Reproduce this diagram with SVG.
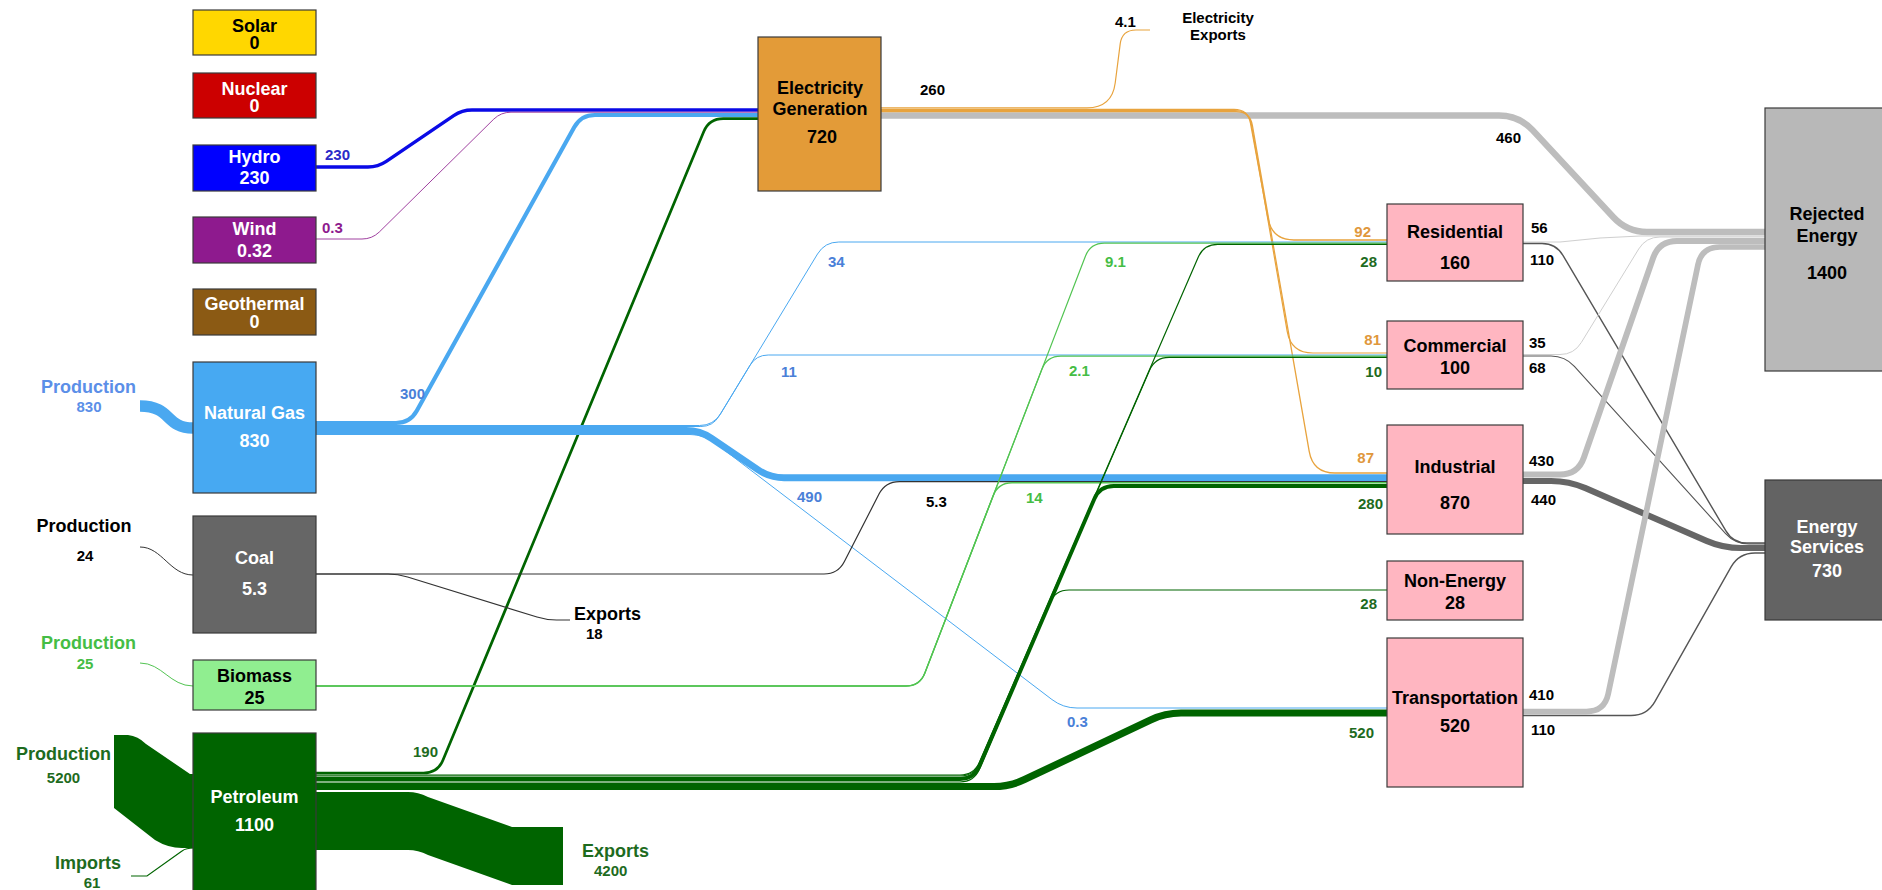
<svg xmlns="http://www.w3.org/2000/svg" width="1882" height="890" viewBox="0 0 1882 890">
<style>
.n{stroke:#3a3a3a;stroke-width:1.2}
.t{font-family:"Liberation Sans",Arial,sans-serif;font-weight:bold;font-size:18px;text-anchor:middle}
.l{font-family:"Liberation Sans",Arial,sans-serif;font-weight:bold;font-size:15px}
.m{text-anchor:middle}
.e{text-anchor:end}
.s{text-anchor:start}
.w{fill:#fff}
.k{fill:#000}
.f{fill:none}
.hy{stroke:#0a0ae6}
.wi{stroke:#a040a0}
.ng{stroke:#4aa8f0}
.co{stroke:#333}
.bi{stroke:#52c452}
.pe{stroke:#006400}
.el{stroke:#e8a33d}
.rj{stroke:#bdbdbd}
.rl{stroke:#cfcfcf}
.es{stroke:#555}
.cNG{fill:#4a80d8}
.cBI{fill:#45bd45}
.cPE{fill:#1e6b1e}
.cEL{fill:#e0973c}
.cHY{fill:#2a2ac8}
.cWI{fill:#8e1a8e}
</style>
<rect width="1882" height="890" fill="#fff"/>
<g id="connectors">
  <!-- sources to electricity -->
  <path class="f hy" stroke-width="3.4" d="M316,167 L368,167 Q378,167 386.3,161.4 L453.7,115.6 Q462,110 472,110 L758,110"/>
  <path class="f wi" stroke-width="1" d="M316,239 L362,239 Q372,239 379.2,232.1 L493.8,119.1 Q501,112.2 511,112.2 L758,112.2"/>
  <path class="f ng" stroke-width="4.2" d="M316,423 L396,423 Q410,423 416.8,410.8 L574.2,127.2 Q581,115 595,115 L758,115"/>
  <path class="f pe" stroke-width="2.7" d="M316,773 L423.6,773 Q437.6,773 443,760.1 L703.8,131.5 Q709.2,118.6 723.2,118.6 L758,118.6"/>
  <!-- electricity outputs -->
  <path class="f rj" stroke-width="6.4" d="M881,115.5 L1499,115.5 Q1519,115.5 1532.6,130.2 L1613.4,217.3 Q1627,232 1647,232 L1766,232"/>
  <path class="f el" stroke-width="1.2" d="M881,107.8 L1087,107.8 Q1112,107.8 1115.2,83 L1120.2,43.9 Q1122,30 1136,30 L1150,30"/>
  <path class="f el" stroke-width="1.3" d="M881,109.3 L1234,109.3 Q1248,109.3 1250.5,123.1 L1268,218.4 Q1272,240 1294,240 L1387,240"/>
  <path class="f el" stroke-width="1.2" d="M881,110.5 L1235,110.5 Q1249,110.5 1251.4,124.3 L1287.2,331.3 Q1291,353 1313,353 L1387,353"/>
  <path class="f el" stroke-width="1.3" d="M881,111.7 L1236,111.7 Q1250,111.7 1252.4,125.5 L1309.2,451.3 Q1313,473 1335,473 L1387,473"/>
  <!-- natural gas -->
  <path class="f ng" stroke-width="11.5" d="M140,406 C172,406 165,428 193,428"/>
  <path class="f ng" stroke-width="1" d="M316,425.5 L699.5,425.5 Q713.5,425.5 720.8,413.5 L817.5,254 Q824.8,242 838.8,242 L1387,242"/>
  <path class="f ng" stroke-width="1" d="M316,426.5 L700.8,426.5 Q712.8,426.5 719,416.2 L750,365.3 Q756.2,355 768.2,355 L1387,355"/>
  <path class="f ng" stroke-width="6.9" d="M316,430.5 L686,430.5 Q700,430.5 711.6,438.3 L758.4,470 Q770,477.8 784,477.8 L1387,477.8"/>
  <path class="f ng" stroke-width="1" d="M316,434.5 L690,434.5 Q704,434.5 715.1,443 L1051.9,699.5 Q1063,708 1077,708 L1387,708"/>
  <!-- coal -->
  <path class="f co" stroke-width="1" d="M140,547 C162,547 170,575 193,575"/>
  <path class="f co" stroke-width="1.2" d="M316,574 L824,574 Q838,574 844.4,561.5 L879,494.1 Q885.4,481.6 899.4,481.6 L1387,481.6"/>
  <path class="f co" stroke-width="1.2" d="M316,574 L388,574 Q398,574 407.6,577 L537,617 Q546.5,620 556.5,620 L570,620"/>
  <!-- biomass -->
  <path class="f bi" stroke-width="1" d="M140,663 C162,663 170,686 193,686"/>
  <path class="f bi" stroke-width="1.4" d="M316,686 L905.9,686 Q919.9,686 924.9,672.9 L993.1,495.9 Q998.1,482.8 1012.1,482.8 L1387,482.8"/>
  <path class="f bi" stroke-width="1.2" d="M316,686 L905.9,686 Q919.9,686 924.9,672.9 L1041.9,369.3 Q1046.9,356.2 1060.9,356.2 L1387,356.2"/>
  <path class="f bi" stroke-width="1.2" d="M316,686 L905.9,686 Q919.9,686 924.9,672.9 L1085.4,256.3 Q1090.4,243.2 1104.4,243.2 L1387,243.2"/>
  <!-- petroleum -->
  <path fill="#006400" d="M114,735 L128,735 Q138,736 146,744 L190,774 L194,774 L194,848 L182,848 Q168,848 155,840 L114,808 Z"/>
  <path class="f pe" stroke-width="1.2" d="M131,876 L147,876 L182,851 Q186,848 194,848"/>
  <path fill="#006400" d="M315,792 L408,792 Q418,792 428,797 L512,827 L563,827 L563,885 L512,885 L428,855 Q418,850 408,850 L315,850 Z"/>
  <path class="f pe" stroke-width="1.2" d="M316,775 L960,775 Q974,775 979.5,762.1 L1198.2,257.3 Q1203.7,244.4 1217.7,244.4 L1387,244.4"/>
  <path class="f pe" stroke-width="1.1" d="M316,776 L960,776 Q974,776 979.5,763.1 L1149.6,370.3 Q1155.1,357.4 1169.1,357.4 L1387,357.4"/>
  <path class="f pe" stroke-width="3.9" d="M316,779 L960,779 Q974,779 979.5,766.1 L1094.3,498.9 Q1099.8,486 1113.8,486 L1387,486"/>
  <path class="f pe" stroke-width="1.2" d="M316,782 L960,782 Q974,782 979.5,769.1 L1049.6,602.9 Q1055.1,590 1069.1,590 L1387,590"/>
  <path class="f pe" stroke-width="7.2" d="M316,786.5 L994,786.5 Q1010,786.5 1024.5,779.6 L1150.5,719.9 Q1165,713 1181,713 L1387,713"/>
  <!-- sectors to rejected / services -->
  <path class="f rl" stroke-width="1" d="M1522,242 L1560,242 Q1600,237 1640,236 L1766,236"/>
  <path class="f es" stroke-width="1.4" d="M1522,243.5 L1542,243.5 Q1556,243.5 1563.1,255.6 L1725.9,530.9 Q1733,543 1747,543 L1766,543"/>
  <path class="f rl" stroke-width="1" d="M1522,354.5 L1560,354.5 Q1574,354.5 1581.3,342.5 L1638.7,249 Q1646,237 1660,237 L1766,237"/>
  <path class="f es" stroke-width="1.1" d="M1522,356 L1551,356 Q1565,356 1574.4,366.4 L1725.6,533.6 Q1735,544 1749,544 L1766,544"/>
  <path class="f rj" stroke-width="6" d="M1522,474.5 L1560,474.5 Q1578,474.5 1583.9,457.5 L1653.1,258 Q1659,241 1677,241 L1766,241"/>
  <path class="f" stroke="#666" stroke-width="6.2" d="M1522,481 L1551,481 Q1569,481 1585.5,488.2 L1706.5,540.8 Q1723,548 1741,548 L1766,548"/>
  <path class="f rj" stroke-width="5.7" d="M1522,711.5 L1586.5,711.5 Q1604.5,711.5 1608.2,693.9 L1698,264.6 Q1701.7,247 1719.7,247 L1766,247"/>
  <path class="f es" stroke-width="1.4" d="M1522,715.5 L1631,715.5 Q1647,715.5 1654.9,701.6 L1731.1,566.9 Q1739,553 1755,553 L1766,553"/>
</g>
<g id="flow-labels">
  <text class="l cHY" x="325" y="160">230</text>
  <text class="l cWI" x="322" y="233">0.3</text>
  <text class="l cNG" x="400" y="399">300</text>
  <text class="l cNG" x="828" y="267">34</text>
  <text class="l cNG" x="781" y="377">11</text>
  <text class="l cNG" x="797" y="502">490</text>
  <text class="l cNG" x="1067" y="727">0.3</text>
  <text class="l k" x="926" y="507">5.3</text>
  <text class="l cBI" x="1105" y="267">9.1</text>
  <text class="l cBI" x="1069" y="376">2.1</text>
  <text class="l cBI" x="1026" y="503">14</text>
  <text class="l cPE" x="413" y="757">190</text>
  <text class="l k" x="920" y="95">260</text>
  <text class="l k" x="1115" y="27">4.1</text>
  <text class="l k m" x="1218" y="23">Electricity</text>
  <text class="l k m" x="1218" y="40">Exports</text>
  <text class="l k" x="1496" y="143">460</text>
  <text class="l cEL e" x="1371" y="237">92</text>
  <text class="l cPE e" x="1377" y="267">28</text>
  <text class="l cEL e" x="1381" y="345">81</text>
  <text class="l cPE e" x="1382" y="377">10</text>
  <text class="l cEL e" x="1374" y="463">87</text>
  <text class="l cPE e" x="1383" y="509">280</text>
  <text class="l cPE e" x="1377" y="609">28</text>
  <text class="l cPE e" x="1374" y="738">520</text>
  <text class="l k" x="1531" y="233">56</text>
  <text class="l k" x="1530" y="265">110</text>
  <text class="l k" x="1529" y="348">35</text>
  <text class="l k" x="1529" y="373">68</text>
  <text class="l k" x="1529" y="466">430</text>
  <text class="l k" x="1531" y="505">440</text>
  <text class="l k" x="1529" y="700">410</text>
  <text class="l k" x="1531" y="735">110</text>
  <text class="t" x="88.5" y="393" fill="#5b8fe8">Production</text>
  <text class="l m" x="89" y="412" fill="#5b8fe8">830</text>
  <text class="t k" x="84" y="532">Production</text>
  <text class="l k m" x="85" y="561">24</text>
  <text class="t cBI" x="88.5" y="649">Production</text>
  <text class="l cBI m" x="85" y="669">25</text>
  <text class="t cPE" x="63.5" y="760">Production</text>
  <text class="l cPE m" x="63.5" y="783">5200</text>
  <text class="t cPE" x="88" y="869">Imports</text>
  <text class="l cPE m" x="92" y="888">61</text>
  <text class="t k s" x="574" y="620">Exports</text>
  <text class="l k" x="586" y="639">18</text>
  <text class="t cPE s" x="582" y="857">Exports</text>
  <text class="l cPE" x="594" y="876">4200</text>
</g>
<g id="node-solar"><rect class="n" x="193" y="10" width="123" height="45" fill="#ffd700"/><text class="t k" x="254.5" y="32">Solar</text><text class="t k" x="254.5" y="49">0</text></g>
<g id="node-nuclear"><rect class="n" x="193" y="73" width="123" height="45" fill="#cc0000"/><text class="t w" x="254.5" y="95">Nuclear</text><text class="t w" x="254.5" y="112">0</text></g>
<g id="node-hydro"><rect class="n" x="193" y="145" width="123" height="46" fill="#0000ff"/><text class="t w" x="254.5" y="163">Hydro</text><text class="t w" x="254.5" y="184">230</text></g>
<g id="node-wind"><rect class="n" x="193" y="217" width="123" height="46" fill="#8e1a8e"/><text class="t w" x="254.5" y="235">Wind</text><text class="t w" x="254.5" y="257">0.32</text></g>
<g id="node-geothermal"><rect class="n" x="193" y="289" width="123" height="46" fill="#8b5a14"/><text class="t w" x="254.5" y="310">Geothermal</text><text class="t w" x="254.5" y="328">0</text></g>
<g id="node-natural-gas"><rect class="n" x="193" y="362" width="123" height="131" fill="#47a9f2"/><text class="t w" x="254.5" y="419">Natural Gas</text><text class="t w" x="254.5" y="447">830</text></g>
<g id="node-coal"><rect class="n" x="193" y="516" width="123" height="117" fill="#666"/><text class="t w" x="254.5" y="564">Coal</text><text class="t w" x="254.5" y="595">5.3</text></g>
<g id="node-biomass"><rect class="n" x="193" y="660" width="123" height="50" fill="#90ee90"/><text class="t k" x="254.5" y="682">Biomass</text><text class="t k" x="254.5" y="704">25</text></g>
<g id="node-petroleum"><rect class="n" x="193" y="733" width="123" height="170" fill="#006400"/><text class="t w" x="254.5" y="803">Petroleum</text><text class="t w" x="254.5" y="831">1100</text></g>
<g id="node-electricity"><rect class="n" x="758" y="37" width="123" height="154" fill="#e39b38"/><text class="t k" x="820" y="94">Electricity</text><text class="t k" x="820" y="115">Generation</text><text class="t k" x="822" y="143">720</text></g>
<g id="node-residential"><rect class="n" x="1387" y="204" width="136" height="77" fill="#ffb6c1"/><text class="t k" x="1455" y="238">Residential</text><text class="t k" x="1455" y="269">160</text></g>
<g id="node-commercial"><rect class="n" x="1387" y="321" width="136" height="68" fill="#ffb6c1"/><text class="t k" x="1455" y="352">Commercial</text><text class="t k" x="1455" y="374">100</text></g>
<g id="node-industrial"><rect class="n" x="1387" y="425" width="136" height="109" fill="#ffb6c1"/><text class="t k" x="1455" y="473">Industrial</text><text class="t k" x="1455" y="509">870</text></g>
<g id="node-non-energy"><rect class="n" x="1387" y="561" width="136" height="59" fill="#ffb6c1"/><text class="t k" x="1455" y="587">Non-Energy</text><text class="t k" x="1455" y="609">28</text></g>
<g id="node-transportation"><rect class="n" x="1387" y="638" width="136" height="149" fill="#ffb6c1"/><text class="t k" x="1455" y="704">Transportation</text><text class="t k" x="1455" y="732">520</text></g>
<g id="node-rejected"><rect class="n" x="1765" y="108" width="124" height="263" fill="#b8b8b8"/><text class="t k" x="1827" y="220">Rejected</text><text class="t k" x="1827" y="242">Energy</text><text class="t k" x="1827" y="279">1400</text></g>
<g id="node-services"><rect class="n" x="1765" y="480" width="124" height="140" fill="#636363"/><text class="t w" x="1827" y="533">Energy</text><text class="t w" x="1827" y="553">Services</text><text class="t w" x="1827" y="577">730</text></g>
</svg>
